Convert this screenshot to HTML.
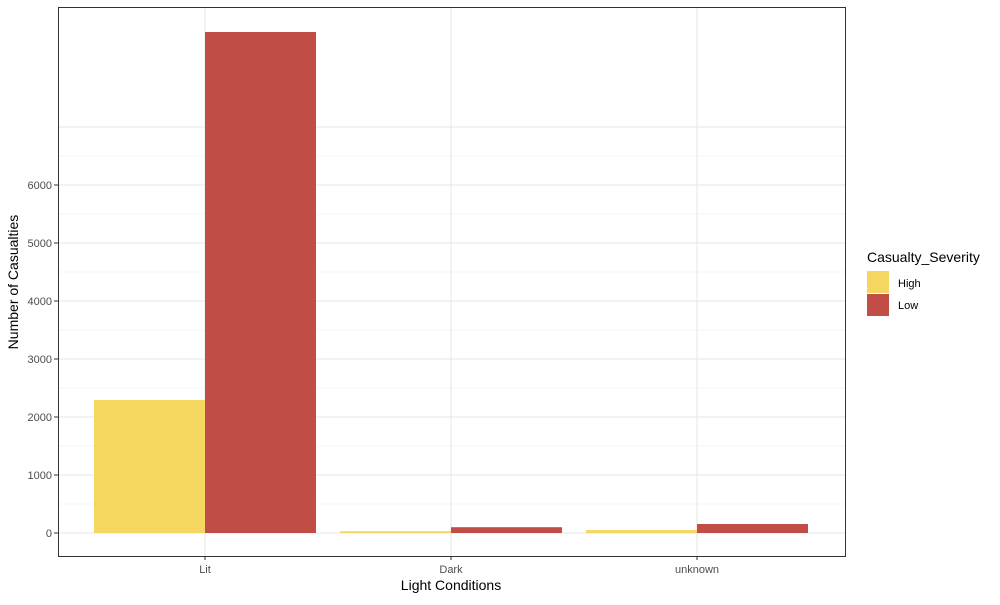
<!DOCTYPE html>
<html><head><meta charset="utf-8"><style>
body{margin:0;background:#fff;font-family:"Liberation Sans",Arial,sans-serif}
</style></head><body>
<svg id="chart" width="1000" height="600" xmlns="http://www.w3.org/2000/svg">
<g id="grid"></g><g id="bars"></g><g id="axes"></g>
<rect x="58.5" y="7.5" width="787" height="549" fill="none" stroke="#333" stroke-width="1"/>
<text x="451" y="590" text-anchor="middle" font-size="14" fill="#000">Light Conditions</text>
<text transform="translate(18,282) rotate(-90)" text-anchor="middle" font-size="14" fill="#000">Number of Casualties</text>
<g>
<text x="867" y="262" font-size="14" fill="#000">Casualty_Severity</text>
<rect x="867" y="271" width="22" height="22" fill="#F5D660"/>
<text x="898" y="287" font-size="11" fill="#000">High</text>
<rect x="867" y="294" width="22" height="22" fill="#C14D47"/>
<text x="898" y="309" font-size="11" fill="#000">Low</text>
</g>
</svg>
<script>
const categories=["Lit","Dark","unknown"];
const highValues=[2293,30,50];
const lowValues=[8638,100,155];
const yTicks=[0,1000,2000,3000,4000,5000,6000];
const colors={high:"#F5D660",low:"#C14D47"};
const NS="http://www.w3.org/2000/svg";
const y=v=>533-v*0.058;
const x=i=>205+i*246;
const bw=111;
function mk(tag,attrs,parent){const e=document.createElementNS(NS,tag);for(const k in attrs)e.setAttribute(k,attrs[k]);parent.appendChild(e);return e;}
const grid=document.getElementById('grid'),bars=document.getElementById('bars'),axes=document.getElementById('axes');
for(let v=500;v<=7000;v+=1000){const l=mk('line',{x1:58,x2:845,y1:y(v),y2:y(v),stroke:'#EBEBEB','stroke-width':0.6},grid);}
yTicks.concat([7000]).forEach(v=>{const l=mk('line',{x1:58,x2:845,y1:y(v),y2:y(v),stroke:'#E5E5E5','stroke-width':1},grid);});
categories.forEach((c,i)=>{const l=mk('line',{x1:x(i),x2:x(i),y1:7,y2:556,stroke:'#E5E5E5','stroke-width':1},grid);});
categories.forEach((c,i)=>{
 const h=mk('rect',{x:x(i)-bw,y:y(highValues[i]),width:bw,height:y(0)-y(highValues[i]),fill:colors.high},bars);
 
 
 const lo=mk('rect',{x:x(i),y:y(lowValues[i]),width:bw,height:y(0)-y(lowValues[i]),fill:colors.low},bars);
 
 
 const t=mk('text',{x:x(i),y:573,'text-anchor':'middle','font-size':11,fill:'#4D4D4D'},axes);t.textContent=c;
 
 
 mk('line',{x1:x(i),x2:x(i),y1:556,y2:560,stroke:'#333'},axes);
});
yTicks.forEach(v=>{
 const t=mk('text',{x:52,y:y(v)+4,'text-anchor':'end','font-size':11,fill:'#4D4D4D'},axes);t.textContent=v;
 
 
 mk('line',{x1:54,x2:58,y1:y(v),y2:y(v),stroke:'#333'},axes);
});
</script>
</body></html>
